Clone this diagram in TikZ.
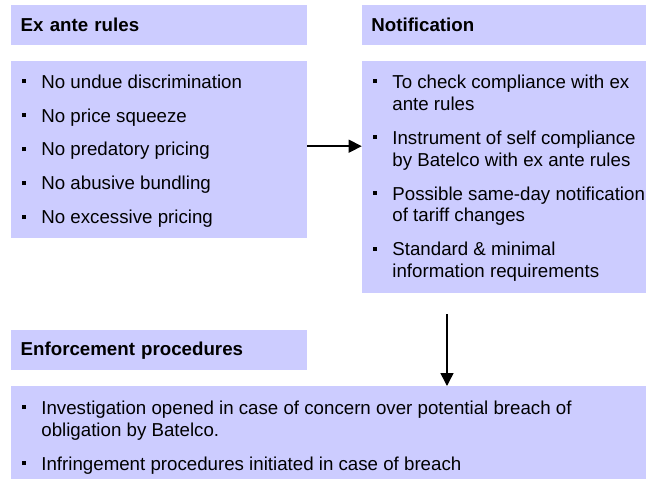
\documentclass[tikz,border=0pt]{standalone}
\usepackage{fontspec}
\setmainfont{Liberation Sans}
\usepackage{array}
\usepackage{xcolor}
\usetikzlibrary{arrows.meta}

\definecolor{boxfill}{RGB}{204,204,255}
% small square bullet
\newcommand{\sq}{\rule[5pt]{4pt}{4pt}}

\begin{document}
\begin{tikzpicture}[x=1pt,y=-1pt,
    font=\fontsize{18.7}{22}\selectfont,
    panel/.style={fill=boxfill, anchor=north west, inner sep=0pt},
    head/.style={panel, minimum height=40pt, inner xsep=9.5pt, text width=#1,
        align=left, font=\fontsize{18.7}{22}\selectfont\bfseries},
    list/.style={anchor=base west, inner sep=0pt},
    arr/.style={-{Triangle[length=13pt,width=13pt]}, line width=1.5pt}]
    \useasboundingbox (0,0) rectangle (646,479);

    % headers
    \node[head=277pt] (exhead) at (11,5) {Ex ante rules};
    \node[head=265.3pt] (notehead) at (361.7,5) {Notification};
    \node[head=277pt] (enfhead) at (11,330) {Enforcement procedures};

    % bodies
    \node[panel, minimum width=296pt, minimum height=177pt] (exbody) at (11,61) {};
    \node[panel, minimum width=284.3pt, minimum height=232pt] (notebody) at (361.7,61) {};
    \node[panel, minimum width=635pt, minimum height=93pt] (enfbody) at (11,386) {};

    \node[list] (exlist) at (21.7,88) {\begin{tabular}[t]{@{}p{19.5pt}@{}l@{}}
        \sq & No undue discrimination\\[12pt]
        \sq & No price squeeze\\[12pt]
        \sq & No predatory pricing\\[12pt]
        \sq & No abusive bundling\\[12pt]
        \sq & No excessive pricing
    \end{tabular}};
    \node[list] (notelist) at (372.7,88) {\begin{tabular}[t]{@{}p{19.5pt}@{}l@{}}
        \sq & To check compliance with ex\\
            & ante rules\\[12pt]
        \sq & Instrument of self compliance\\
            & by Batelco with ex ante rules\\[12pt]
        \sq & Possible same-day notification\\
            & of tariff changes\\[12pt]
        \sq & Standard \& minimal\\
            & information requirements
    \end{tabular}};
    \node[list] (enflist) at (22.2,414) {\begin{tabular}[t]{@{}p{19pt}@{}l@{}}
        \sq & Investigation opened in case of concern over potential breach of\\
            & obligation by Batelco.\\[12pt]
        \sq & Infringement procedures initiated in case of breach
    \end{tabular}};

    % flow between the boxes
    \draw[arr] ([yshift=3.5pt]exbody.east) -- ([yshift=3.5pt]exbody.east -| notebody.west);
    \coordinate (drop) at (447,314);
    \draw[arr] (drop) -- (drop |- enfbody.north);
\end{tikzpicture}
\end{document}
